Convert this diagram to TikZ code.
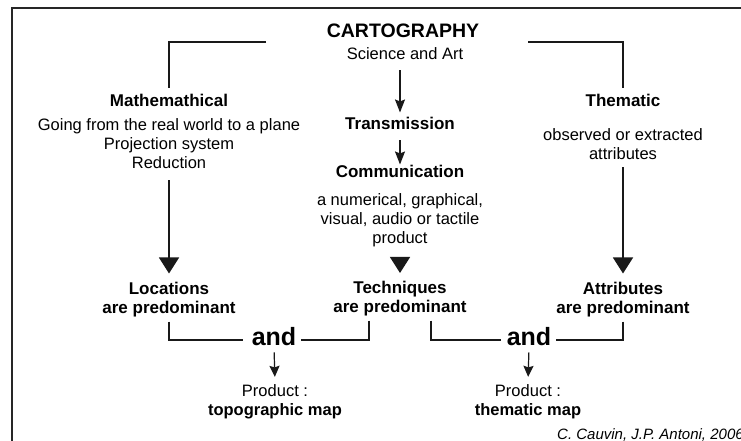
\documentclass[tikz,border=0pt]{standalone}
\usepackage{fontspec}
\setmainfont{Liberation Sans}
\usetikzlibrary{arrows.meta,positioning}

\begin{document}
\begin{tikzpicture}[x=1pt,y=-1pt,>={Stealth[width=10pt,length=13pt,inset=2pt]}]
  \tikzstyle{title}=[anchor=base,inner sep=2pt,font=\fontsize{19.5}{22}\selectfont\bfseries]
  \tikzstyle{head}=[anchor=base,inner sep=2pt,align=center,font=\fontsize{17}{19}\selectfont\bfseries]
  \tikzstyle{txt}=[anchor=base,inner sep=2pt,align=center,font=\fontsize{16.5}{19}\selectfont]
  \tikzstyle{conj}=[anchor=base,inner sep=2pt,font=\fontsize{25}{28}\selectfont\bfseries]
  \tikzstyle{link}=[draw=black!90,line width=1.4pt]
  \tikzstyle{bigtip}=[-{Triangle[width=20pt,length=16pt]}]

  \useasboundingbox (0,0) rectangle (741,441);
  \clip (0,0) rectangle (741,441);
  \fill[white] (0,0) rectangle (741,441);
  \draw[black!85,line width=2pt] (12,460) |- (760,8);

  % Top of the tree.
  \node [title] (carto) at (403,38) {CARTOGRAPHY};
  \node [txt] (sci) at (405,60) {Science and Art};
  \coordinate (lend) at (266,42);
  \coordinate (rend) at (528,42);

  % Left branch.
  \node [head] (math) at (169,107) {Mathemathical};
  \node [txt] (mathtxt) at (169,168) {Going from the real world to a plane\\Projection system\\Reduction};
  \node [head] (loc) at (169,313) {Locations\\are predominant};

  % Middle branch.
  \node [head] (trans) at (400,130) {Transmission};
  \node [head] (comm) at (400,177) {Communication};
  \node [txt] (commtxt) at (400,243) {a numerical, graphical,\\visual, audio or tactile\\product};
  \node [head] (tech) at (400,312) {Techniques\\are predominant};

  % Right branch.
  \node [head] (them) at (623,107) {Thematic};
  \node [txt] (themtxt) at (623,159) {observed or extracted\\attributes};
  \node [head] (attr) at (623,313) {Attributes\\are predominant};

  % Products.
  \node [conj] (and1) at (274,345) {and};
  \node [conj] (and2) at (529,345) {and};
  \node [txt] (prod1) at (275,415) {Product :\\\textbf{topographic map}};
  \node [txt] (prod2) at (528,415) {Product :\\\textbf{thematic map}};
  \node [anchor=base west,inner sep=0pt,font=\fontsize{15}{17}\selectfont\itshape] (cite) at (557,439) {C. Cauvin, J.P. Antoni, 2006};

  \begin{scope}[link]
    \draw (lend) -| ([yshift=4pt]math.north);
    \draw (rend) -| ([yshift=4pt]them.north);
    \draw [->,shorten <=8pt,shorten >=3pt] (trans|-sci.south) -- (trans.north);
    \draw [->,shorten <=8pt,shorten >=-2pt] (trans.south) -- (comm.north);
    \draw [bigtip,shorten <=10pt,shorten >=6pt] (mathtxt.south) -- (loc.north);
    \draw [bigtip,shorten <=6pt,shorten >=6pt] (themtxt.south) -- (attr.north);
    \draw [bigtip,shorten <=8.5pt,shorten >=5.5pt] (commtxt.south) -- (tech.north);
  \end{scope}

  \begin{scope}[draw=black!90,line width=1.2pt]
    \draw [shorten <=3pt,shorten >=7pt] (loc.south) |- ([yshift=-4pt]and1.west);
    \draw [shorten <=3pt,shorten >=3pt] ([xshift=-31pt]tech.south) |- ([yshift=-4pt]and1.east);
    \draw [shorten <=3pt,shorten >=4pt] ([xshift=31pt]tech.south) |- ([yshift=-4pt]and2.west);
    \draw [shorten <=3pt,shorten >=3pt] (attr.south) |- ([yshift=-4pt]and2.east);
    \draw [->,>={Stealth[width=10pt,length=11pt,inset=1.5pt]},shorten <=5pt,shorten >=5pt] (and1.south) -- (prod1.north);
    \draw [->,>={Stealth[width=10pt,length=11pt,inset=1.5pt]},shorten <=5pt,shorten >=5pt] (and2.south) -- (prod2.north);
  \end{scope}
\end{tikzpicture}
\end{document}
